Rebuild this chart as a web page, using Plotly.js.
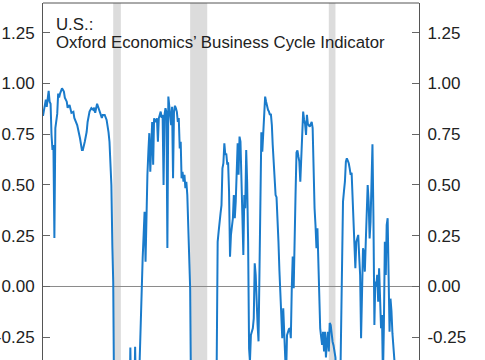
<!DOCTYPE html>
<html><head><meta charset="utf-8">
<script src="https://cdn.plot.ly/plotly-3.0.1.min.js"></script>
<style>html,body{margin:0;padding:0;overflow:hidden;background:#fff}</style>
</head><body><div id="chart" style="width:485px;height:360px"></div>
<script>
const dates = ['1995-01','1995-04','1995-05','1995-07','1995-08','1995-09','1995-10','1995-11','1995-12',
'1996-01','1996-02','1996-04','1996-05','1996-06','1996-07','1996-09','1996-11','1996-12',
'1997-02','1997-03','1997-05','1997-07','1997-09','1997-10',
'1998-01','1998-03','1998-04','1998-06','1998-07','1998-09','1998-11','1998-12',
'1999-02','1999-04','1999-06','1999-07','1999-08','1999-10','1999-11',
'2000-01','2000-03','2000-04','2000-06','2000-08','2000-09','2000-10','2000-11','2000-12',
'2001-01','2001-02','2001-03','2001-04','2001-07','2001-11',
'2002-03','2002-07','2002-08','2002-09','2002-10',
'2003-01','2003-02','2003-03','2003-05','2003-06','2003-07','2003-08','2003-09','2003-10','2003-11','2003-12',
'2004-01','2004-02','2004-03','2004-04','2004-05','2004-06','2004-07','2004-08','2004-09','2004-10','2004-12',
'2005-01','2005-02','2005-03','2005-05','2005-06','2005-07','2005-08','2005-09','2005-10','2005-11','2005-12',
'2006-01','2006-02','2006-03','2006-04','2006-05','2006-06','2006-07','2006-08','2006-09','2006-10','2006-11','2006-12',
'2007-01','2007-02','2007-03','2007-04','2007-05','2007-06','2007-07','2007-08','2007-09','2007-10','2007-11','2007-12',
'2008-01','2008-05','2008-11','2009-05','2009-11',
'2010-03','2010-04','2010-05','2010-06','2010-07','2010-08','2010-09','2010-10','2010-11','2010-12',
'2011-01','2011-02','2011-03','2011-04','2011-05','2011-06','2011-07','2011-08','2011-09','2011-10','2011-11','2011-12',
'2012-01','2012-02','2012-03','2012-04','2012-05','2012-06','2012-07','2012-08','2012-09','2012-10','2012-11','2012-12',
'2013-01','2013-02','2013-03','2013-04','2013-05','2013-06','2013-07','2013-08','2013-09','2013-10','2013-11','2013-12',
'2014-01','2014-02','2014-03','2014-04','2014-05','2014-06','2014-07','2014-08','2014-09','2014-10','2014-11','2014-12',
'2015-01','2015-02','2015-03','2015-04','2015-05','2015-06','2015-07','2015-08','2015-09','2015-10','2015-11','2015-12',
'2016-01','2016-02','2016-03','2016-04','2016-05','2016-06','2016-07','2016-08','2016-09','2016-10','2016-11','2016-12',
'2017-01','2017-02','2017-03','2017-04','2017-05','2017-06','2017-07','2017-08','2017-09','2017-10','2017-11','2017-12',
'2018-01','2018-02','2018-03','2018-04','2018-05','2018-06','2018-07','2018-08','2018-09','2018-10','2018-11','2018-12',
'2019-01','2019-02','2019-03','2019-04','2019-05','2019-06','2019-07','2019-08','2019-09','2019-10','2019-11','2019-12',
'2020-01','2020-02','2020-03','2020-04','2020-05','2020-06','2020-07','2020-08','2020-09','2020-10','2020-11','2020-12',
'2021-01','2021-02','2021-03','2021-04','2021-05','2021-06','2021-07','2021-08','2021-09','2021-10','2021-11','2021-12',
'2022-01','2022-02','2022-03','2022-04','2022-05','2022-06','2022-07','2022-08','2022-09','2022-10','2022-11','2022-12',
'2023-01','2023-02','2023-03','2023-04','2023-05','2023-06','2023-07','2023-08','2023-09','2023-10','2023-11','2023-12',
'2024-01','2024-02','2024-03','2024-04','2024-05','2024-06','2024-07','2024-08','2024-09','2024-10','2024-11','2024-12',
'2025-01','2025-02','2025-03','2025-04','2025-05','2025-06','2025-07','2025-08','2025-09','2025-10','2025-11','2025-12'];
const values = [0.84,0.92,0.885,0.963,0.91,0.90,0.746,0.672,0.697,
0.239,0.78,0.85,0.95,0.93,0.95,0.976,0.96,0.93,
0.91,0.88,0.894,0.855,0.86,0.83,
0.795,0.756,0.73,0.672,0.672,0.713,0.762,0.81,
0.861,0.878,0.87,0.88,0.855,0.90,0.885,
0.86,0.83,0.845,0.845,0.82,0.795,0.76,0.713,0.615,
0.50,0.20,0.024,-0.62,-0.85,-0.95,
-0.8,-0.7,-0.65,-0.30,-0.6,
-0.6,-0.297,-0.55,-0.6,-0.5,-0.32,-0.2,-0.007,0.14,0.254,0.368,
0.122,0.385,0.55,0.664,0.755,0.565,0.762,0.81,0.60,0.828,0.81,
0.828,0.713,0.828,0.861,0.83,0.845,0.50,0.845,0.878,0.86,0.19,
0.935,0.88,0.84,0.795,0.885,0.533,0.86,0.89,0.878,0.86,0.81,0.83,
0.68,0.713,0.533,0.565,0.516,0.55,0.484,0.516,0.45,0.254,0.073,-0.007,
-0.6,-0.9,-1.0,-0.95,-0.8,
-0.6,-0.36,0.22,0.27,0.303,0.36,0.401,0.582,0.607,0.705,
0.648,0.655,0.607,0.61,0.467,0.147,0.254,0.319,0.336,0.45,0.336,0.418,
0.55,0.705,0.55,0.738,0.713,0.434,0.352,0.155,0.45,0.385,0.672,0.516,
0.22,-0.305,-0.37,-0.239,-0.22,-0.206,-0.157,0.114,0.057,-0.107,-0.19,-0.27,
0.02,0.43,0.76,0.664,0.762,0.861,0.935,0.91,0.88,0.87,0.861,0.845,
0.85,0.795,0.697,0.63,0.565,0.45,0.44,0.352,0.22,0.08,-0.05,-0.14,
-0.255,-0.107,-0.239,-0.272,-0.45,-0.24,-0.223,-0.21,-0.206,-0.255,-0.009,0.147,
-0.009,0.303,0.45,0.66,0.67,0.64,0.615,0.516,0.664,0.762,0.861,0.82,
0.80,0.746,0.845,0.80,0.795,0.787,0.80,0.81,0.78,0.55,0.385,0.303,
0.188,0.287,0.09,-0.042,-0.206,-0.25,-0.288,-0.223,-0.32,-0.223,-0.35,-0.272,
-0.223,-0.32,-0.18,-0.19,-0.255,-0.272,-0.29,-0.32,-0.35,-0.5,-1.2,-1.0,
-0.8,-0.5,-0.107,0.22,0.418,0.47,0.516,0.615,0.631,0.62,0.607,0.582,
0.55,0.56,0.467,0.352,0.22,0.09,0.22,0.237,0.254,0.15,0.057,-0.255,
0.057,0.188,0.17,0.073,0.22,0.352,0.5,0.418,0.237,0.319,0.55,0.70,
0.35,-0.19,0.024,0.0,0.057,-0.075,0.09,-0.14,-0.206,-0.14,-0.45,-0.2,
0.22,0.057,0.303,0.336,0.05,-0.223,-0.06,-0.12,-0.23,-0.28,-0.32,-0.42];
const recessionStarts = ['2001-03-01','2007-12-01','2020-02-01'];
const recessionEnds = ['2001-11-01','2009-06-01','2020-09-01'];
const tickVals = [-0.25,0,0.25,0.5,0.75,1.0,1.25];
const tickText = ['-0.25','0.00','0.25','0.50','0.75','1.00','1.25'];
const titleLine1 = 'U.S.:';
const titleLine2 = 'Oxford Economics\u2019 Business Cycle Indicator';

const FONT = 'Liberation Sans, Arial, Helvetica, sans-serif';
const yRange = [-0.362, 1.396];
const shapes = recessionStarts.map((s, i) => ({
  type: 'rect', xref: 'x', yref: 'paper', x0: s, x1: recessionEnds[i], y0: 0, y1: 1,
  fillcolor: '#dcdcdc', line: {width: 0}, layer: 'below'
}));
shapes.push({type: 'line', xref: 'paper', yref: 'paper', x0: 0, x1: 1, y0: 1, y1: 1,
  line: {color: '#555', width: 1}, layer: 'above'});

const yCommon = {
  range: yRange, tickvals: tickVals, ticktext: tickText, ticks: 'inside', ticklen: 7,
  tickcolor: '#666', showline: true, linecolor: '#555', linewidth: 1, showgrid: false,
  zeroline: false, ticklabelstandoff: 4,
  tickfont: {family: FONT, size: 17, color: '#222'}, fixedrange: true
};

const data = [
  {x: dates, y: values, type: 'scatter', mode: 'lines',
   line: {color: '#1a7bcb', width: 2}, hoverinfo: 'skip', showlegend: false},
  {x: [dates[0]], y: [null], type: 'scatter', mode: 'lines', yaxis: 'y2', showlegend: false, hoverinfo: 'skip'}
];

const layout = {
  width: 485, height: 360,
  margin: {l: 43, r: 66, t: 3, b: 0, pad: 0},
  paper_bgcolor: '#fff', plot_bgcolor: '#fff',
  showlegend: false,
  xaxis: {type: 'date', range: ['1995-01-01', '2028-01-01'], visible: false, fixedrange: true},
  yaxis: Object.assign({}, yCommon, {side: 'left'}),
  yaxis2: Object.assign({}, yCommon, {side: 'right', overlaying: 'y'}),
  shapes: shapes.concat([{type: 'line', xref: 'paper', yref: 'y', x0: 0, x1: 1, y0: 0, y1: 0,
    line: {color: '#8a8a8a', width: 1}, layer: 'below'}]),
  annotations: [
    {xref: 'paper', yref: 'y', x: 0.03, y: 1.29, xanchor: 'left', yanchor: 'middle', showarrow: false,
     text: titleLine1, font: {family: FONT, size: 16.8, color: '#222'}},
    {xref: 'paper', yref: 'y', x: 0.03, y: 1.203, xanchor: 'left', yanchor: 'middle', showarrow: false,
     text: titleLine2, font: {family: FONT, size: 16.8, color: '#222'}}
  ]
};
Plotly.newPlot('chart', data, layout, {staticPlot: true, displayModeBar: false});
</script></body></html>
